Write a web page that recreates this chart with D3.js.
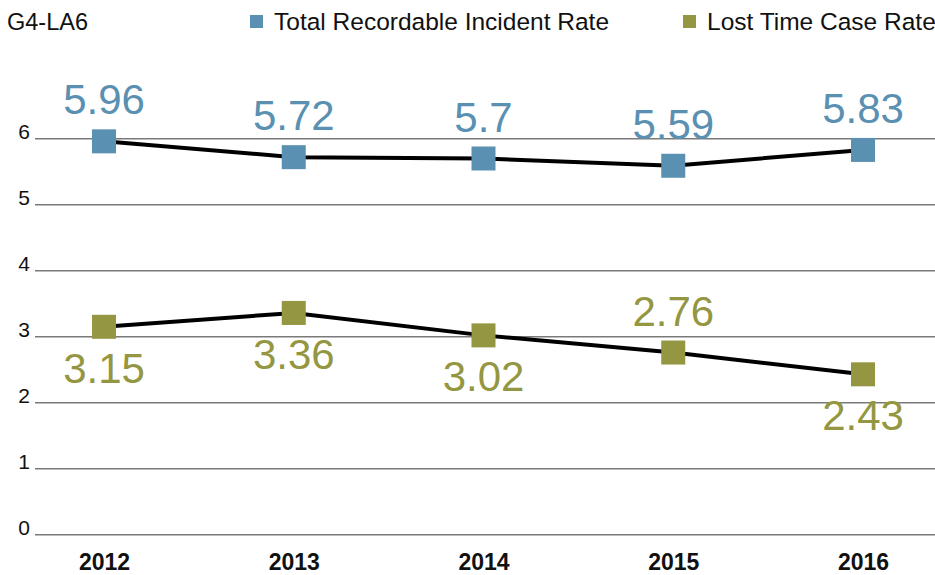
<!DOCTYPE html>
<html>
<head>
<meta charset="utf-8">
<script src="https://cdn.jsdelivr.net/npm/d3@7"></script>
<style>
  body { margin: 0; background: #fff; }
  svg { display: block; font-family: "Liberation Sans", Arial, sans-serif; }
</style>
</head>
<body>
<svg id="chart" width="935" height="575"></svg>
<script>
// data
var years = ["2012", "2013", "2014", "2015", "2016"];
var totalRate = [5.96, 5.72, 5.7, 5.59, 5.83];
var lostRate = [3.15, 3.36, 3.02, 2.76, 2.43];
var yTicks = [0, 1, 2, 3, 4, 5, 6];

var blue = "#5a90b1", olive = "#949641";

var svg = d3.select("#chart");

var x = d3.scalePoint().domain(years).range([104, 863]);
var y = d3.scaleLinear().domain([0, 6]).range([534.7, 138.7]);

// gridlines + y labels
var grid = svg.append("g");
grid.selectAll("line").data(yTicks).enter().append("line")
  .attr("x1", 35).attr("x2", 935)
  .attr("y1", function(d) { return y(d); })
  .attr("y2", function(d) { return y(d); })
  .attr("stroke", "#7a7a7a").attr("stroke-width", 1.6);
grid.selectAll("text").data(yTicks).enter().append("text")
  .attr("x", 30).attr("y", function(d) { return y(d); })
  .attr("text-anchor", "end")
  .attr("font-size", 21).attr("fill", "#111")
  .text(function(d) { return d; });

// x labels
var xAxis = d3.axisBottom(x).tickSize(0).tickPadding(0);
var xg = svg.append("g").attr("transform", "translate(0,555)").call(xAxis);
xg.select(".domain").remove();
xg.selectAll("text")
  .attr("font-size", 23).attr("font-weight", "bold")
  .attr("fill", "#111").attr("font-family", "Liberation Sans, Arial, sans-serif")
  .attr("y", 15).attr("dy", 0);

// series
var series = [
  {name: "Total Recordable Incident Rate", values: totalRate, color: blue},
  {name: "Lost Time Case Rate", values: lostRate, color: olive}
];
var line = d3.line()
  .x(function(d, i) { return x(years[i]); })
  .y(function(d) { return y(d); });

var lostLabelAbove = ["2015"];

series.forEach(function(s, si) {
  svg.append("path").datum(s.values)
    .attr("d", line).attr("fill", "none")
    .attr("stroke", "#000").attr("stroke-width", 4);

  svg.selectAll(".m" + si).data(s.values).enter().append("rect")
    .attr("class", "m" + si)
    .attr("x", function(d, i) { return x(years[i]) - 12; })
    .attr("y", function(d) { return y(d) - 12; })
    .attr("width", 24).attr("height", 24)
    .attr("fill", s.color);

  svg.selectAll(".v" + si).data(s.values).enter().append("text")
    .attr("class", "v" + si)
    .attr("x", function(d, i) { return x(years[i]); })
    .attr("y", function(d, i) {
      var above = si === 0 || lostLabelAbove.indexOf(years[i]) >= 0;
      return above ? y(d) - 27 : y(d) + 56;
    })
    .attr("text-anchor", "middle")
    .attr("font-size", 42).attr("fill", s.color)
    .text(function(d) { return d; });
});

// header + legend
svg.append("text").attr("x", 7).attr("y", 30)
  .attr("font-size", 23.5).attr("fill", "#111").text("G4-LA6");

var legendX = [250, 683];
series.forEach(function(s, i) {
  svg.append("rect").attr("x", legendX[i]).attr("y", 15)
    .attr("width", 13).attr("height", 13).attr("fill", s.color);
  svg.append("text").attr("x", legendX[i] + 24).attr("y", 30)
    .attr("font-size", 24.5).attr("fill", "#111").text(s.name);
});
</script>
</body>
</html>
